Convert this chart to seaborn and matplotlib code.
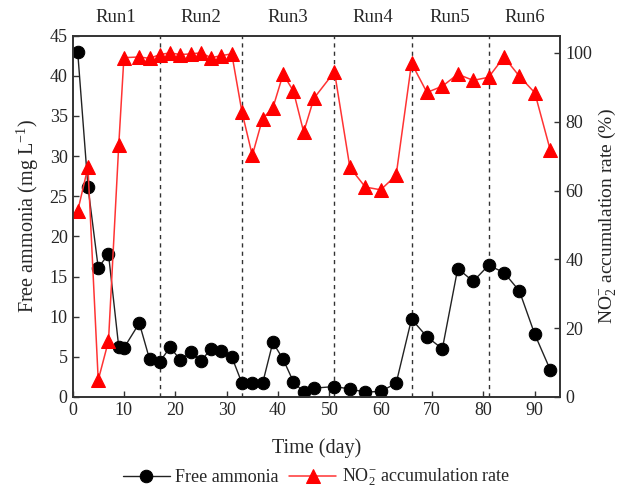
import numpy as np
import pandas as pd
import matplotlib
matplotlib.use("Agg")
import matplotlib.pyplot as plt
import seaborn as sns

# Data
days = [1, 3, 5, 7, 9, 10, 13, 15, 17, 19, 21, 23, 25, 27, 29, 31, 33, 35, 37, 39,
        41, 43, 45, 47, 51, 54, 57, 60, 63, 66, 69, 72, 75, 78, 81, 84, 87, 90, 93]
free_ammonia = [43.0, 26.2, 16.1, 17.8, 6.2, 6.1, 9.2, 4.7, 4.4, 6.2, 4.6, 5.6, 4.5, 6.0,
                5.7, 5.0, 1.7, 1.8, 1.7, 6.8, 4.7, 1.9, 0.6, 1.1, 1.3, 1.0, 0.6, 0.7,
                1.7, 9.7, 7.5, 6.0, 16.0, 14.4, 16.4, 15.5, 13.2, 7.8, 3.4]
no2_rate = [54.0, 66.8, 4.9, 16.3, 73.3, 98.6, 98.8, 98.4, 99.5, 100.0, 99.5, 99.7,
            100.0, 98.6, 99.2, 99.7, 82.7, 70.2, 80.9, 84.0, 93.8, 88.9, 77.0, 86.8,
            94.5, 66.7, 61.0, 60.2, 64.4, 97.0, 88.5, 90.3, 93.8, 92.0, 92.9, 98.8,
            93.2, 88.4, 71.8]
run_bounds = [17, 33, 51, 66, 81]
run_labels = ['Run1', 'Run2', 'Run3', 'Run4', 'Run5', 'Run6']

df = pd.DataFrame({'day': days, 'fa': free_ammonia, 'no2': no2_rate})

sns.set_style('ticks')
plt.rcParams['font.family'] = ['Liberation Serif', 'DejaVu Serif']
plt.rcParams['mathtext.fontset'] = 'stix'
plt.rcParams['xtick.direction'] = 'in'
plt.rcParams['ytick.direction'] = 'in'

fig = plt.figure(figsize=(6.2, 4.95), dpi=100)
fig.subplots_adjust(left=0.117, right=0.904, top=0.928, bottom=0.198)
ax = fig.add_subplot(111)
ax2 = ax.twinx()

sns.lineplot(data=df, x='day', y='fa', ax=ax, color='#222222', linewidth=1.0,
             marker='o', markersize=9, markeredgecolor='black', markerfacecolor='black',
             label='Free ammonia', legend=False)
sns.lineplot(data=df, x='day', y='no2', ax=ax2, color='#ff3333', linewidth=1.1,
             marker='^', markersize=9.5, markeredgecolor='red', markerfacecolor='red',
             label=r'NO$\mathregular{_2^{-}}$ accumulation rate', legend=False)

# run boundaries
for b in run_bounds:
    ax.axvline(b, color='#333333', linestyle=(0, (3, 3)), linewidth=1.0, zorder=0)

edges = [0] + run_bounds + [95]
for i, lab in enumerate(run_labels):
    mid = (edges[i] + edges[i + 1]) / 2
    ax.text(mid, 1.05, lab, transform=ax.get_xaxis_transform(), ha='center',
            va='center', fontsize=13.5)

ax.set_xlim(0, 95)
ax.set_ylim(0, 45)
ax2.set_ylim(0, 105)
ax.set_xticks(np.arange(0, 91, 10))
ax.set_yticks(np.arange(0, 46, 5))
ax2.set_yticks(np.arange(0, 101, 20))

ax.set_xlabel('Time (day)', fontsize=14.5, labelpad=14)
ax.set_ylabel(r'Free ammonia (mg L$\mathregular{^{-1}}$)', fontsize=14.5, labelpad=6)
ax2.set_ylabel(r'NO$\mathregular{_2^{-}}$ accumulation rate (%)', fontsize=14, labelpad=3)

for a in (ax, ax2):
    a.tick_params(labelsize=13, length=4, width=1, color='#333333')
    for s in a.spines.values():
        s.set_linewidth(1.2)
        s.set_color('#333333')

h1, l1 = ax.get_legend_handles_labels()
h2, l2 = ax2.get_legend_handles_labels()
fig.legend(h1 + h2, l1 + l2, loc='center', bbox_to_anchor=(0.51, 0.035), ncol=2,
           frameon=False, fontsize=13, handlelength=2.6, columnspacing=0.6,
           handletextpad=0.3)

fig.savefig('out.png', dpi=100)
